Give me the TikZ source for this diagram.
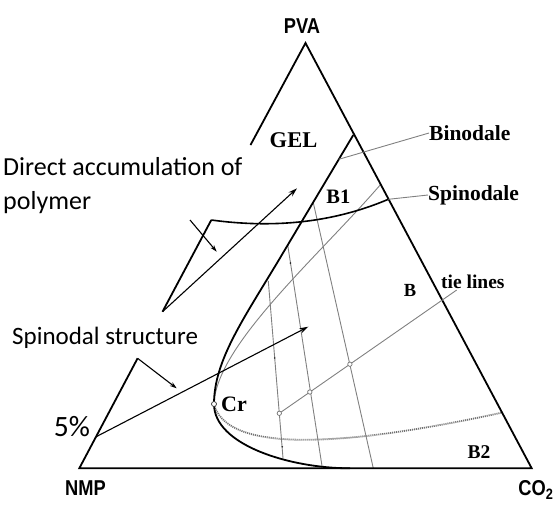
\documentclass[tikz,border=0pt]{standalone}
\usepackage{fontspec}
\usepackage{graphicx}
\setmainfont{Liberation Serif}
\newfontfamily\labsans{Carlito}
\newfontfamily\capsans[FakeStretch=0.85]{Liberation Sans}
\usetikzlibrary{arrows.meta}
\tikzset{
  edge/.style={line width=1.8pt, line join=miter},
  arr/.style={line width=1.1pt, -{Stealth[length=9pt,width=5.5pt]}},
  smallarr/.style={line width=1.1pt, -{Stealth[length=7pt,width=4.5pt]}},
  greyline/.style={black!50, line width=0.9pt},
  dotline/.style={black!55, line width=1.8pt, dash pattern=on 1.1pt off 0.9pt},
  serlab/.style={font=\bfseries\fontsize{21.5}{21.5}\selectfont, inner sep=0pt},
  caplab/.style={font=\capsans\bfseries\fontsize{21.5}{21.5}\selectfont, inner sep=0pt},
  sanslab/.style={font=\labsans\fontsize{26}{34}\selectfont, inner sep=0pt},
  opendot/.style={circle, draw=black!55, fill=white, line width=0.7pt, minimum size=4.4pt, inner sep=0pt},
}
\begin{document}
\begin{tikzpicture}[x=1pt,y=-1pt]
\useasboundingbox (0,0) rectangle (554,507);
% triangle corners and breaks
\coordinate (A) at (305.5,43);
\coordinate (N) at (79.3,468.3);
\coordinate (C) at (531.7,468.3);
\coordinate (L1) at (250.5,145);
\coordinate (E1) at (211.3,220);
\coordinate (E2) at (162.5,311.7);
\coordinate (E3) at (137.6,358.3);
\coordinate (F5) at (96.2,436.7);
\coordinate (G) at (388.3,199.3);
\coordinate (B0) at (353.3,135);
\coordinate (Bm) at (280,258);
\coordinate (Crp) at (214,404);
\coordinate (S0) at (381,184);
\coordinate (D1) at (501.7,412.7);
\coordinate (Bend) at (350,468.3);
% tie lines
\coordinate (T1a) at (268.3,281);   \coordinate (T1b) at (283,458);
\coordinate (T2a) at (287.7,245);   \coordinate (T2b) at (322,466);
\coordinate (T3a) at (313.2,202.3); \coordinate (T3b) at (373.3,468.3);
\draw[greyline] (T1a) -- (T1b);
\draw[greyline] (T2a) -- (T2b);
\draw[greyline] (T3a) -- (T3b);
\fill[black!85] (274.7,358) circle (0.9pt);
\fill[black!85] (290.4,263) circle (0.9pt);
\fill[black!85] (282.3,446.7) circle (0.9pt);
% spinodal
\draw[greyline] (S0) .. controls (320,255) and (216,345) .. (Crp);
\draw[dotline] (Crp) .. controls (225,448) and (320,452) .. (D1);
% triangle
\draw[edge] (L1) -- (A) -- (C) -- (N) -- (E3);
\draw[edge] (E1) -- (E2);
% binodal
\draw[edge] (B0) -- (Bm) .. controls (244.2,318) and (214,360) .. (Crp)
  .. controls (214,445) and (290,468.3) .. (Bend);
% gel line
\draw[line width=1.6pt] (E1) .. controls (270,228) and (330,224) .. (G);
% labels
\node[caplab] (pva) at (302,26) {PVA};
\node[caplab] (nmp) at (85.5,488) {NMP};
\node[caplab] (co2) at (536,490) {CO\textsubscript{2}};
\node[serlab, font=\bfseries\fontsize{22.5}{22.5}\selectfont] (gel) at (293.5,140) {GEL};
\node[serlab, font=\bfseries\fontsize{20.5}{20.5}\selectfont] (b1) at (338.3,196.7) {B1};
\node[serlab, anchor=west] (binod) at (429,133) {Binodale};
\node[serlab, anchor=west] (spinod) at (428,195) {Spinodale};
\node[serlab, font=\bfseries\fontsize{18.5}{18.5}\selectfont] (bb) at (410,290) {B};
\node[serlab, anchor=west, font=\bfseries\fontsize{19.5}{19.5}\selectfont] (tie) at (441,282) {tie lines};
\node[serlab, font=\bfseries\fontsize{19.5}{19.5}\selectfont] (b2) at (479,452) {B2};
\node[serlab, anchor=west, font=\bfseries\fontsize{22}{22}\selectfont] (crl) at (221,404) {Cr};
\node[sanslab, font=\labsans\fontsize{29.5}{29.5}\selectfont] (pct) at (72,427) {5\%};
\node[sanslab, anchor=base west, font=\labsans\fontsize{25}{34}\selectfont] (spst) at (12,344) {Spinodal structure};
\node[sanslab, anchor=base west] (dacc) at (3,175) {Direct accumulation of};
\node[sanslab, anchor=base west] (poly) at (3,209) {polymer};
% leaders
\coordinate (bl) at (338.8,159.3);
\draw[greyline] (bl) -- (binod.west);
\draw[greyline] (G) -- (spinod.west);
\coordinate (tl0) at (279.3,413.3);
\coordinate (tl1) at (456.7,290);
\draw[greyline] (tl0) -- (tl1);
\node[opendot] (c1) at (tl0) {};
\node[opendot] (c2) at (309.8,392.0) {};
\node[opendot] (c3) at (349.9,364.2) {};
% arrows
\coordinate (sptip) at (308.3,326.7);
\coordinate (datip) at (297,188.3);
\coordinate (sa1s) at (190,220);
\coordinate (sa1e) at (216.7,251.7);
\coordinate (sa2e) at (176.7,388.3);
\draw[arr] (F5) -- (sptip);
\draw[arr] (E2) -- (datip);
\draw[smallarr] (sa1s) -- (sa1e);
\draw[smallarr] (E3) -- (sa2e);
% critical point
\node[opendot, draw=black!80, minimum size=5pt] (cr) at (Crp) {};
\end{tikzpicture}
\end{document}
